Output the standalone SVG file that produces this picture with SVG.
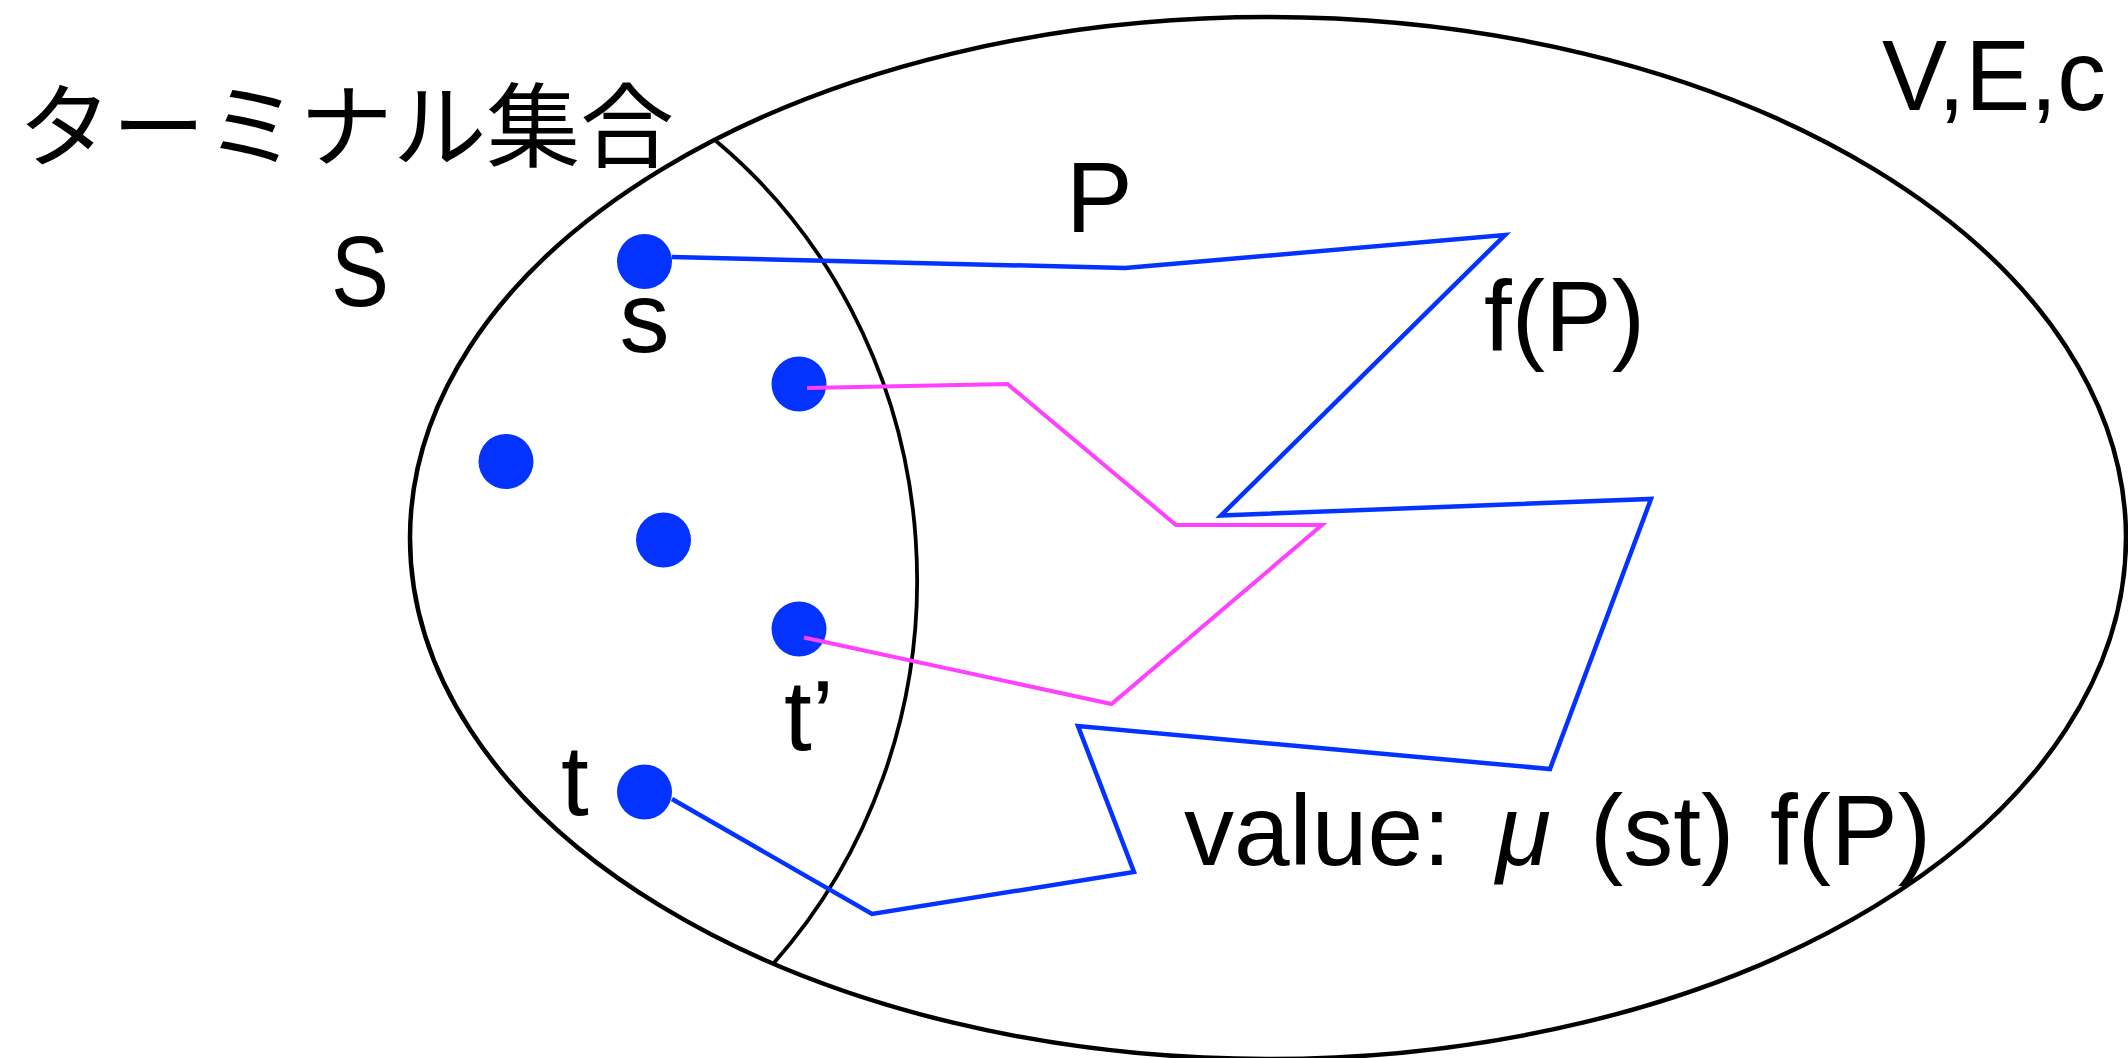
<svg xmlns="http://www.w3.org/2000/svg" width="2128" height="1058" viewBox="0 0 2128 1058">
<style>
.outline{fill:none;stroke:#000;stroke-width:4.5}
.dot{fill:#0433FF}
.blue{fill:none;stroke:#0433FF;stroke-width:4.5;stroke-linejoin:miter}
.pink{fill:none;stroke:#FF40FF;stroke-width:4;stroke-linejoin:miter}
.lbl{font-family:"Liberation Sans",Arial,"Noto Sans CJK JP",sans-serif;font-size:100px;fill:#000}
.jp{font-family:"Noto Sans CJK JP","Noto Sans CJK SC",sans-serif;font-size:92px;fill:#000}
</style>
<rect width="2128" height="1058" fill="#fff"/>
<g id="regions">
<ellipse id="graph-VEc" class="outline" cx="1268" cy="538" rx="858" ry="521"/>
<path id="terminal-boundary" class="outline" style="stroke-width:3.8" d="M716 141 A530 560 0 0 1 773 964"/>
</g>
<g id="terminals">
<circle id="node-s" class="dot" cx="644.5" cy="261.5" r="27.5"/>
<circle id="node-a" class="dot" cx="799" cy="384" r="27.5"/>
<circle id="node-b" class="dot" cx="506" cy="461.5" r="27.5"/>
<circle id="node-c" class="dot" cx="663.5" cy="540" r="27.5"/>
<circle id="node-tp" class="dot" cx="799" cy="629" r="27.5"/>
<circle id="node-t" class="dot" cx="644.5" cy="792" r="27.5"/>
</g>
<g id="connectors">
<polyline id="path-P" class="blue" points="672,257 1125,268 1505,235 1221,515.5 1651,499 1550,769 1078,726 1134,872 872,914 672,799"/>
<polyline id="path-pink" class="pink" points="807,388 1007.5,384 1176,525 1322,525 1111.5,704 804,637.5"/>
</g>
<g id="labels">
<text id="label-terminal" class="jp" x="18" y="160" textLength="656" lengthAdjust="spacingAndGlyphs">ターミナル集合</text>
<text id="label-S" class="lbl" x="331" y="306" textLength="58" lengthAdjust="spacingAndGlyphs">S</text>
<text id="label-s" class="lbl" x="644.5" y="352" text-anchor="middle">s</text>
<text id="label-P" class="lbl" x="1066" y="232">P</text>
<text id="label-fP" class="lbl" x="1484" y="351">f(P)</text>
<text id="label-VEc" class="lbl" x="1882" y="110" textLength="224" lengthAdjust="spacingAndGlyphs">V,E,c</text>
<text id="label-tp" class="lbl" x="784" y="750">t’</text>
<text id="label-t" class="lbl" x="561" y="815">t</text>
<text id="label-value" class="lbl" y="865"><tspan x="1184">value:</tspan><tspan x="1496" font-style="italic">μ</tspan><tspan x="1590">(st)</tspan><tspan x="1770">f(P)</tspan></text>
</g>
</svg>
